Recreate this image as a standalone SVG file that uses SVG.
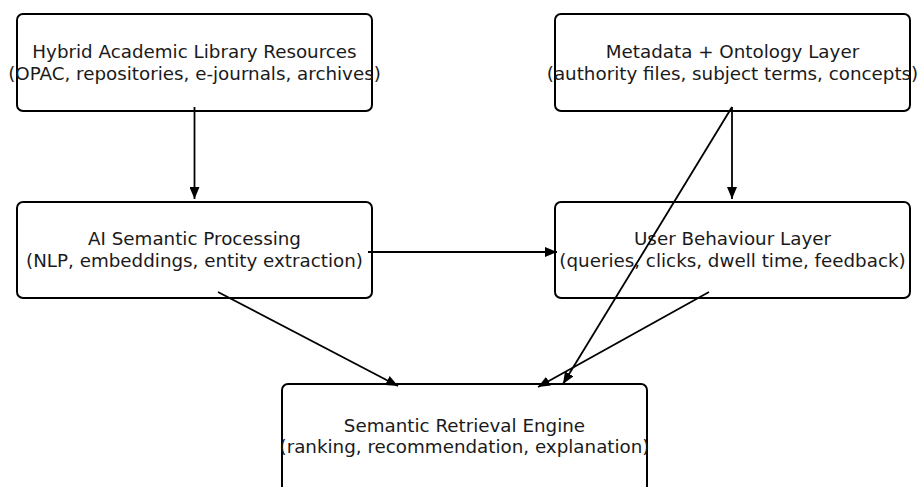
<svg xmlns="http://www.w3.org/2000/svg" width="918" height="487" viewBox="0 0 918 487">
<style>
.box{fill:#fff;stroke:#000;stroke-width:2}
.t{font-family:"DejaVu Sans",sans-serif;font-size:18.3px;fill:#1a1a1a;text-anchor:middle}
.c{stroke:#000;stroke-width:1.8;fill:none;marker-end:url(#ah)}
</style>
<defs>
<marker id="ah" viewBox="0 0 12 10" refX="12" refY="5" markerWidth="12" markerHeight="10" markerUnits="userSpaceOnUse" orient="auto">
<path d="M0,0 L12,5 L0,10 z" fill="#000"/>
</marker>
</defs>
<g id="n1"><rect class="box" x="17" y="14" width="355" height="97" rx="6"/>
<text class="t" x="194.5" y="58">Hybrid Academic Library Resources</text>
<text class="t" x="194.5" y="80">(OPAC, repositories, e-journals, archives)</text></g>
<g id="n2"><rect class="box" x="555" y="14" width="355" height="97" rx="6"/>
<text class="t" x="732.5" y="58">Metadata + Ontology Layer</text>
<text class="t" x="732.5" y="80">(authority files, subject terms, concepts)</text></g>
<g id="n3"><rect class="box" x="17" y="202" width="355" height="96" rx="6"/>
<text class="t" x="194.5" y="245">AI Semantic Processing</text>
<text class="t" x="194.5" y="267">(NLP, embeddings, entity extraction)</text></g>
<g id="n4"><rect class="box" x="555" y="202" width="355" height="96" rx="6"/>
<text class="t" x="732.5" y="245">User Behaviour Layer</text>
<text class="t" x="732.5" y="267">(queries, clicks, dwell time, feedback)</text></g>
<g id="n5"><rect class="box" x="282" y="384" width="365" height="115" rx="6"/>
<text class="t" x="464.5" y="431.5">Semantic Retrieval Engine</text>
<text class="t" x="464.5" y="453">(ranking, recommendation, explanation)</text></g>
<g id="connectors">
<line class="c" x1="194.5" y1="107" x2="194.5" y2="199"/>
<line class="c" x1="732" y1="107" x2="732" y2="199"/>
<line class="c" x1="368" y1="252" x2="557" y2="252"/>
<line class="c" x1="218" y1="292" x2="398" y2="386"/>
<line class="c" x1="709" y1="292" x2="538" y2="387"/>
<line class="c" x1="732" y1="107" x2="563" y2="384"/>
</g>
</svg>
